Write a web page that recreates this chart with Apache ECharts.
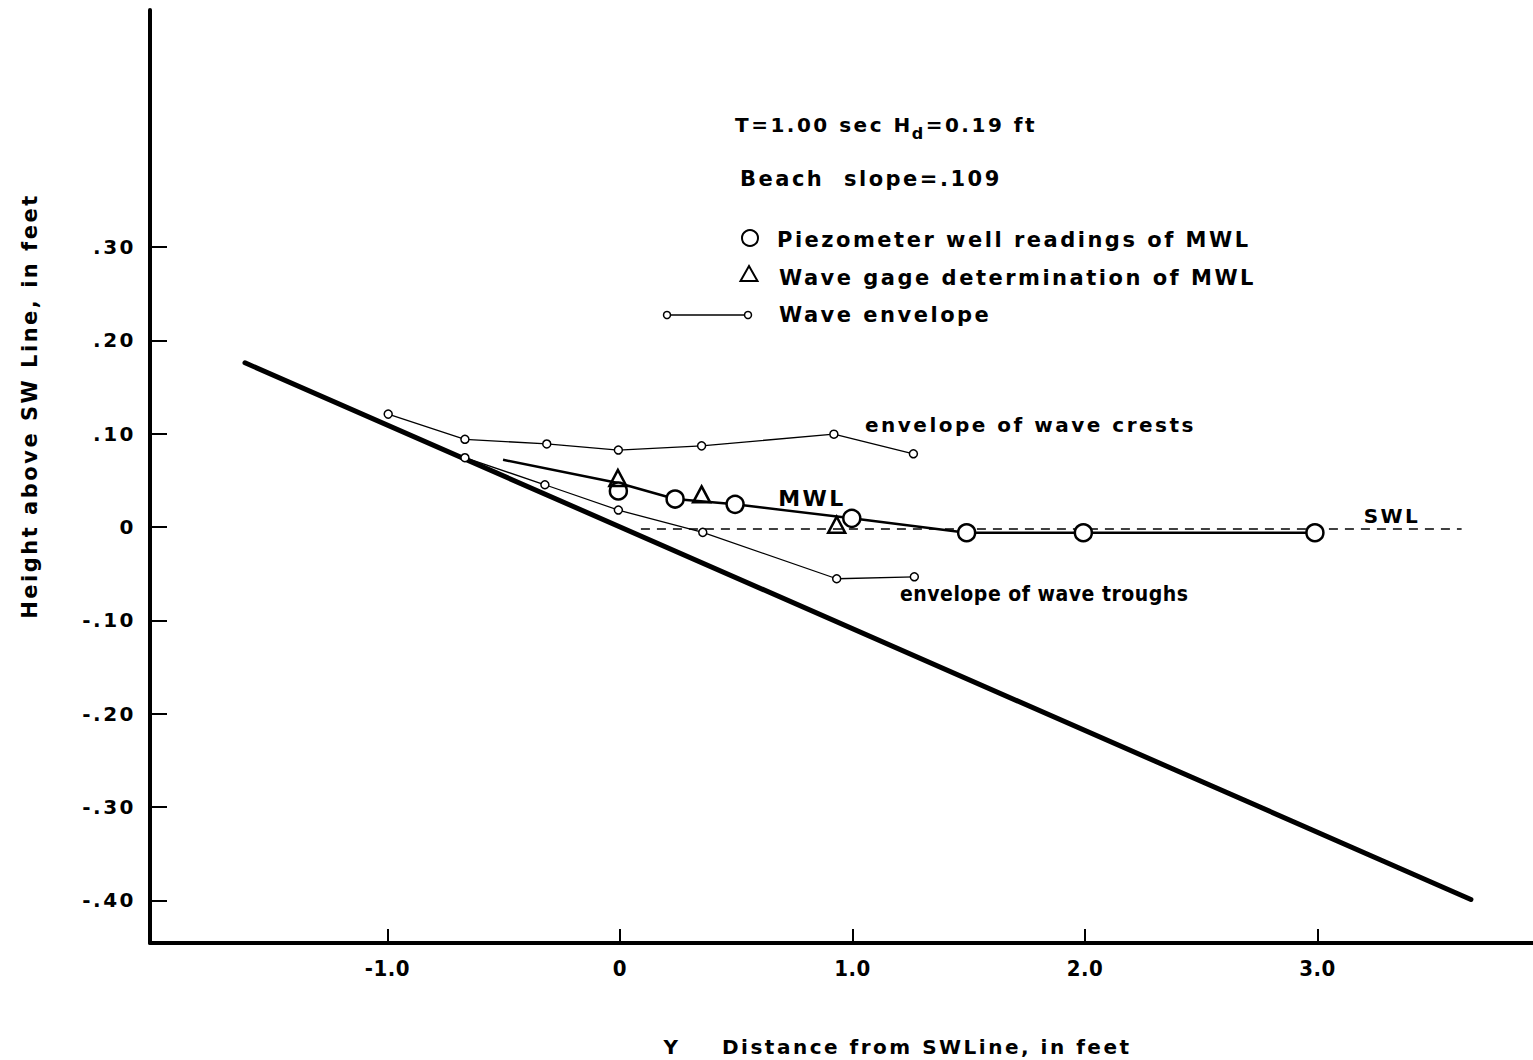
<!DOCTYPE html>
<html>
<head>
<meta charset="utf-8">
<title>Mean water level on a sloping beach</title>
<script src="https://cdn.jsdelivr.net/npm/echarts@6/dist/echarts.min.js"></script>
<style>
  html, body { margin: 0; padding: 0; background: #fff; }
  #chart { width: 1533px; height: 1060px; }
  /* hand-lettered look: widely spaced capitals */
  #chart text { letter-spacing: 2.5px; }
  #chart text[style*="Condensed"] { letter-spacing: 0.5px; }
</style>
</head>
<body>
<div id="chart"></div>
<script>
// ---- data (feet) ----
const xTicks = [-1, 0, 1, 2, 3];
const yTicks = [-0.4, -0.3, -0.2, -0.1, 0, 0.1, 0.2, 0.3];

// beach profile, slope .109
const beachX = [-1.613, 3.66];
const beachY = [0.176, -0.399];

// still water line
const swlX = [0.09, 3.62];
const swlY = [-0.002, -0.002];

// envelope of wave crests
const crestX = [-0.997, -0.667, -0.315, -0.007, 0.351, 0.920, 1.262];
const crestY = [0.121, 0.094, 0.089, 0.0825, 0.087, 0.0995, 0.0785];

// envelope of wave troughs
const troughX = [-0.667, -0.323, -0.007, 0.356, 0.932, 1.266];
const troughY = [0.0743, 0.0453, 0.0182, -0.0057, -0.0554, -0.0533];

// piezometer well readings of MWL
const piezoX = [-0.007, 0.237, 0.495, 0.997, 1.491, 1.993, 2.989];
const piezoY = [0.0386, 0.030, 0.0243, 0.0093, -0.0061, -0.0061, -0.0061];

// wave gage determination of MWL
const gageX = [-0.009, 0.351, 0.932];
const gageY = [0.0525, 0.035, 0.0025];

// faired mean water level curve
const mwlX = [-0.503, -0.003, 0.237, 0.495, 0.997, 1.491, 1.993, 2.989];
const mwlY = [0.072, 0.047, 0.030, 0.0243, 0.0093, -0.0061, -0.0061, -0.0061];

const pairs = (xs, ys) => xs.map((x, i) => [x, ys[i]]);

// ---- text helpers ----
const LS = 2.5;
const FONT = '"DejaVu Sans"';
const COND = '"DejaVu Sans Condensed"';
const measureCtx = document.createElement('canvas').getContext('2d');
function textWidth(s, size) {
  measureCtx.font = 'bold ' + size + 'px ' + FONT;
  return measureCtx.measureText(s).width + LS * s.length;
}
function label(text, x, y, size, align, family) {
  return {
    type: 'text', x: x, y: y, silent: true,
    style: {
      text: text, fill: '#000',
      font: 'bold ' + size + 'px ' + (family || FONT),
      textAlign: align || 'left', textVerticalAlign: 'middle'
    }
  };
}

// heading line with subscript d
const headA = 'T=1.00 sec H';
const headB = 'd';
const headC = '=0.19 ft';
const headX = 735;
const wA = textWidth(headA, 20);
const wB = textWidth(headB, 16);

const graphics = [
  label(headA, headX, 125, 20),
  label(headB, headX + wA - 1, 133, 16),
  label(headC, headX + wA + wB - 1, 125, 20),
  label('Beach  slope=.109', 740, 179, 21),

  // legend
  { type: 'circle', silent: true, shape: { cx: 750, cy: 238, r: 8 },
    style: { fill: '#fff', stroke: '#000', lineWidth: 2 } },
  label('Piezometer well readings of MWL', 777, 240, 21),
  { type: 'polygon', silent: true,
    shape: { points: [[740.5, 281], [757.5, 281], [749, 266]] },
    style: { fill: 'none', stroke: '#000', lineWidth: 2 } },
  label('Wave gage determination of MWL', 779, 278, 21),
  { type: 'line', silent: true, shape: { x1: 667, y1: 315, x2: 745, y2: 315 },
    style: { stroke: '#000', lineWidth: 1.5 } },
  { type: 'circle', silent: true, shape: { cx: 667, cy: 315, r: 3.5 },
    style: { fill: '#fff', stroke: '#000', lineWidth: 1.5 } },
  { type: 'circle', silent: true, shape: { cx: 748, cy: 315, r: 3.5 },
    style: { fill: '#fff', stroke: '#000', lineWidth: 1.5 } },
  label('Wave envelope', 779, 315, 21),

  // curve labels
  label('envelope of wave crests', 865, 425, 20),
  label('envelope of wave troughs', 900, 594, 21, 'left', COND),
  label('MWL', 812, 498, 22, 'center'),
  label('SWL', 1392, 516, 20, 'center'),

  // axis titles
  {
    type: 'text', x: 30, y: 406, rotation: Math.PI / 2, silent: true,
    style: {
      text: 'Height above SW Line, in feet', fill: '#000',
      font: 'bold 21px ' + FONT, textAlign: 'center', textVerticalAlign: 'middle'
    }
  },
  label('Y', 672, 1047, 20, 'center'),
  label('Distance from SWLine, in feet', 722, 1047, 20)
];

const xFmt = v => (v === 0 ? '0' : v.toFixed(1));
const yFmt = v => {
  if (Math.abs(v) < 1e-9) return '0';
  const d = String(Math.round(Math.abs(v) * 100)).padStart(2, '0');
  return (v < 0 ? '-' : '') + '.' + d;
};

const chart = echarts.init(document.getElementById('chart'), null, { renderer: 'svg' });
chart.setOption({
  animation: false,
  backgroundColor: '#fff',
  grid: { left: 150, right: 0, top: 10, bottom: 117, containLabel: false },
  xAxis: {
    type: 'value', min: -2.0215, max: 3.927,
    splitLine: { show: false },
    axisLine: { show: true, onZero: false, lineStyle: { color: '#000', width: 4 } },
    axisTick: { show: true, inside: true, length: 14, customValues: xTicks,
      lineStyle: { color: '#000', width: 2 } },
    axisLabel: { customValues: xTicks, formatter: xFmt, margin: 14, color: '#000',
      fontFamily: COND, fontWeight: 'bold', fontSize: 22 }
  },
  yAxis: {
    type: 'value', min: -0.4457, max: 0.554,
    splitLine: { show: false },
    axisLine: { show: true, onZero: false, lineStyle: { color: '#000', width: 4 } },
    axisTick: { show: true, inside: true, length: 17, customValues: yTicks,
      lineStyle: { color: '#000', width: 2 } },
    axisLabel: { customValues: yTicks, formatter: yFmt, margin: 14, color: '#000',
      fontFamily: FONT, fontWeight: 'bold', fontSize: 20 }
  },
  graphic: graphics,
  series: [
    {
      name: 'Beach', type: 'line', data: pairs(beachX, beachY), symbol: 'none',
      silent: true, lineStyle: { color: '#000', width: 5, cap: 'round' }, z: 2
    },
    {
      name: 'SWL', type: 'line', data: pairs(swlX, swlY), symbol: 'none',
      silent: true, lineStyle: { color: '#000', width: 1.5, type: [9, 7] }, z: 2
    },
    {
      name: 'Crests', type: 'line', data: pairs(crestX, crestY),
      symbol: 'circle', symbolSize: 8, silent: true,
      itemStyle: { color: '#fff', borderColor: '#000', borderWidth: 1.5 },
      lineStyle: { color: '#000', width: 1.3 }, z: 3
    },
    {
      name: 'Troughs', type: 'line', data: pairs(troughX, troughY),
      symbol: 'circle', symbolSize: 8, silent: true,
      itemStyle: { color: '#fff', borderColor: '#000', borderWidth: 1.5 },
      lineStyle: { color: '#000', width: 1.3 }, z: 3
    },
    {
      name: 'MWL', type: 'line', data: pairs(mwlX, mwlY), symbol: 'none',
      silent: true, lineStyle: { color: '#000', width: 2.5 }, z: 4
    },
    {
      name: 'Piezometer', type: 'scatter', data: pairs(piezoX, piezoY),
      symbol: 'circle', symbolSize: 17, silent: true,
      itemStyle: { color: '#fff', borderColor: '#000', borderWidth: 2.5, opacity: 1 }, z: 5
    },
    {
      name: 'Wave gage', type: 'scatter', data: pairs(gageX, gageY),
      symbol: 'triangle', symbolSize: [17, 16], silent: true,
      itemStyle: { color: 'rgba(255,255,255,0)', borderColor: '#000', borderWidth: 2.5, opacity: 1 }, z: 6
    }
  ]
});
</script>
</body>
</html>
